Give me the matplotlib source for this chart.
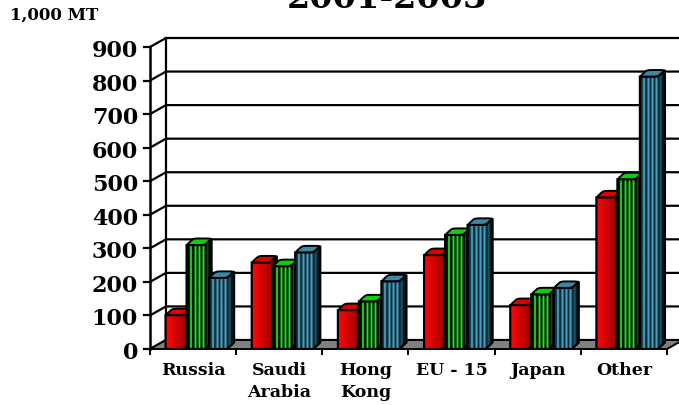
import numpy as np
import matplotlib
matplotlib.use("Agg")
import matplotlib.pyplot as plt
from matplotlib.patches import Polygon
from matplotlib.colors import to_rgb

# values (1,000 MT)
categories = ["Russia", "Saudi\nArabia", "Hong\nKong", "EU - 15", "Japan", "Other"]
red_vals = [101, 258, 116, 280, 131, 452]
green_vals = [310, 247, 142, 340, 163, 506]
blue_vals = [212, 288, 202, 370, 182, 812]
yticks = [0, 100, 200, 300, 400, 500, 600, 700, 800, 900]

W, H = 679, 406
fig = plt.figure(figsize=(W / 100, H / 100), dpi=100)
ax = fig.add_axes([150 / W, 1 - 350 / H, 517 / W, 302 / H])
ax.axis("off")

PX = 6 / 517.0          # x data units per pixel
PY = 900 / 302.0        # y data units per pixel
dxf, dyf = 16 * PX, 9 * PY   # depth of the floor / back wall
font = dict(family="DejaVu Serif", weight="bold")

# back wall gridlines + floor
for v in yticks:
    ax.plot([-0.5, -0.5 + dxf, 5.5 + dxf], [v, v + dyf, v + dyf], color="black",
            lw=1.6, clip_on=False, zorder=0.5, solid_capstyle="butt")
    ax.plot([-0.5 - 6 * PX, -0.5], [v, v], color="black", lw=1.6, clip_on=False)
    ax.text(-0.5 - 12 * PX, v - 3 * PY, str(v), ha="right", va="center", fontsize=16, **font)
ax.plot([-0.5 + dxf] * 2, [dyf, 900 + dyf], color="black", lw=1.6, clip_on=False, zorder=0.5)
ax.plot([-0.5, -0.5], [0, 900], color="black", lw=1.8, clip_on=False, zorder=6)
floor = Polygon([(-0.5, 0), (5.5, 0), (5.5 + dxf, dyf), (-0.5 + dxf, dyf)], closed=True,
                facecolor="#808080", edgecolor="black", lw=1.4, clip_on=False, zorder=1)
ax.add_patch(floor)
for i in range(7):
    ax.plot([i - 0.5] * 2, [0, -5 * PY], color="black", lw=1.4, clip_on=False)
for i, c in enumerate(categories):
    ax.text(i, -12 * PY, c, ha="center", va="top", fontsize=12.5, linespacing=1.4, **font)

# bar look
w, bdx, bdy = 18 * PX, 7 * PX, 6.5 * PY
offsets = [-27.5 * PX, -6.5 * PX, 16 * PX]
N = 50


def face_colors(kind):
    u = np.linspace(0, 25, N)
    img = np.zeros((N, 3))
    for k, p in enumerate(u):
        if kind == "red":
            if p < 19:
                img[k] = np.array(to_rgb("#ff0808")) * (1 - p / 19) + np.array(to_rgb("#a80000")) * (p / 19)
            else:
                img[k] = np.array(to_rgb("#600000")) * (1 - (p - 19) / 6)
        else:
            base = "#000000" if kind == "green" else "#12303b"
            stripe = "#22e022" if kind == "green" else "#4a9ec0"
            img[k] = to_rgb(base)
            for s in (4, 8.5, 12.5, 16.5):
                if s - 1.0 <= p <= s + 1.0:
                    img[k] = to_rgb(stripe)
            if 20 <= p <= 21.5:
                img[k] = to_rgb("#0b5a0b" if kind == "green" else "#1f5566")
            if p > 22 and kind == "blue":
                img[k] = to_rgb("#081820")
    return img[None, :, :]


cap_colors = {"red": "#e00000", "green": "#12cc12", "blue": "#3a8aa5"}
tt = np.linspace(0, 2 * np.pi, 90)
sx = np.sign(np.cos(tt)) * np.abs(np.cos(tt)) ** 0.35
sy = np.sign(np.sin(tt)) * np.abs(np.sin(tt)) ** 0.35

for j, (kind, vals) in enumerate([("red", red_vals), ("green", green_vals), ("blue", blue_vals)]):
    img = face_colors(kind)
    for i, v in enumerate(vals):
        x0 = i + offsets[j]
        z = 3 + j
        body = [(x0, 0), (x0, v), (x0 + w, v), (x0 + w + bdx, v + bdy),
                (x0 + w + bdx, bdy), (x0 + w, 0)]
        clip = Polygon(body, closed=True, transform=ax.transData)
        im = ax.imshow(img, extent=(x0, x0 + w + bdx, 0, v + bdy), aspect="auto",
                       interpolation="bilinear", zorder=z)
        im.set_clip_path(clip)
        ax.add_patch(Polygon(body, closed=True, fill=False, edgecolor="black", lw=1.6, zorder=z))
        cx, cy = x0 + (w + bdx) / 2, v + bdy / 2
        cap = np.column_stack([cx + sx * w / 2 + sy * bdx / 2, cy + sy * bdy / 2])
        ax.add_patch(Polygon(cap, closed=True, facecolor=cap_colors[kind], edgecolor="black",
                             lw=1.4, zorder=z + 0.5))

ax.set_xlim(-0.5, 5.5)
ax.set_ylim(0, 900)

fig.text(387 / W, 1 - 8 / H, "2001-2003", ha="center", va="baseline", fontsize=24, **font)
fig.text(10 / W, 1 - 15 / H, "1,000 MT", ha="left", va="center", fontsize=12, **font)

fig.savefig("out.png", dpi=100)
